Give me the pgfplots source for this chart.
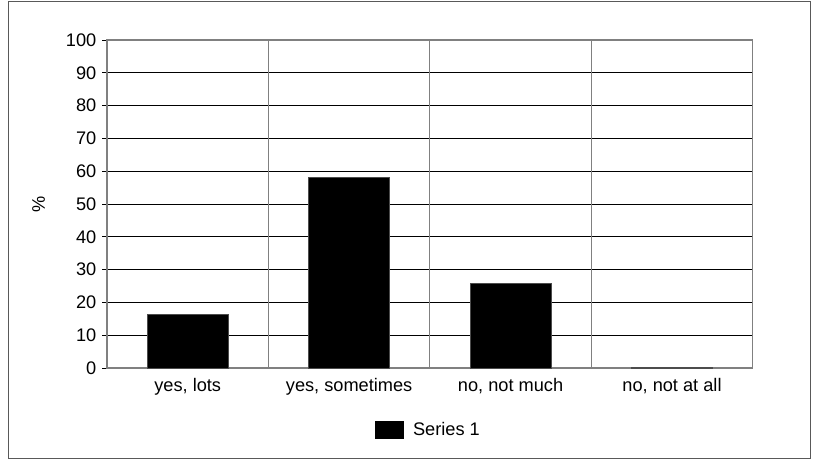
\documentclass[border=0pt]{standalone}
\usepackage{pgfplots}
\pgfplotsset{compat=1.18}
\usepackage{fontspec}
\setmainfont{Liberation Sans}
\begin{document}
\fontsize{18}{21}\selectfont
\begin{tikzpicture}[x=1pt,y=1pt]
\useasboundingbox (0,0) rectangle (813,461);
\draw[gray!70!black, line width=0.9pt] (8.5,3) rectangle (810.5,460);
\begin{axis}[
  at={(107pt,93pt)}, anchor=south west,
  scale only axis, width=645.7pt, height=328pt,
  xmin=-0.5, xmax=3.5, ymin=0, ymax=100,
  ytick={0,10,...,100},
  ytick pos=left, xtick pos=bottom,
  ymajorgrids, major grid style={black, line width=0.8pt},
  axis line style={gray, line width=1.2pt},
  xtick={0,1,2,3},
  xticklabels={{yes, lots},{yes, sometimes},{no, not much},{no, not at all}},
  x tick style={draw=none},
  y tick style={black, line width=0.8pt},
  tick align=outside, major tick length=4.5pt,
  extra x ticks={0.5,1.5,2.5},
  extra x tick labels={},
  extra x tick style={grid=major, major grid style={gray, line width=1.2pt}, tick style={draw=gray, line width=1.2pt}, major tick length=4pt},
  tick label style={font=\fontsize{18.2}{21}\selectfont},
  /pgf/number format/assume math mode=true,
  ylabel={\%},
  ylabel style={at={(axis description cs:-0.106,0.5)}, anchor=center, font=\fontsize{18.2}{21}\selectfont},
  ybar, bar width=81pt,
  legend style={at={(0.498,-0.189)}, anchor=center, draw=none, font=\fontsize{18.2}{21}\selectfont},
  legend image code/.code={\fill[black] (0pt,-8.5pt) rectangle (28pt,8.5pt); \path (35pt,0pt);},
]
\addplot[fill=black, draw=gray!60!black, line width=0.8pt] coordinates {(0,16.4) (1,58.2) (2,25.8) (3,0.3)};
\addlegendentry{Series 1}
\end{axis}
\end{tikzpicture}
\end{document}
